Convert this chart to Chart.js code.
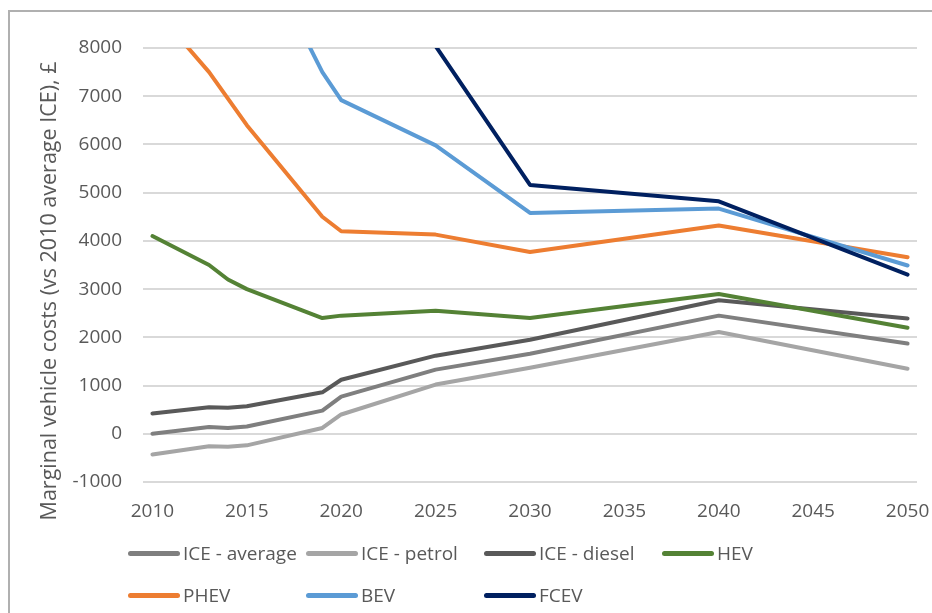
<!DOCTYPE html>
<html>
<head>
<meta charset="utf-8">
<title>Marginal vehicle costs</title>
<script src="https://cdn.jsdelivr.net/npm/chart.js@4.4.1/dist/chart.umd.min.js"></script>
<style>
    body { margin: 0; background: #fff; font-family: "Open Sans", sans-serif; }
    #wrap { position: relative; width: 932px; height: 613px; overflow: hidden; }
    #frame { position: absolute; left: 8px; top: 10px; width: 960px; height: 640px;
             border-left: 2px solid #b0b0b0; border-top: 2px solid #b0b0b0; }
    #chart { position: absolute; left: 0; top: 0; }
    #legend { position: absolute; left: 128px; top: 542px;
              display: grid; grid-template-columns: repeat(4, 178px); row-gap: 20px; }
    .item { display: flex; align-items: center; height: 22px; font-size: 19px; color: #595959; }
    .swatch { width: 52px; height: 5px; border-radius: 3px; margin-right: 3px; }
</style>
</head>
<body>
<div id="wrap">
    <div id="frame"></div>
    <canvas id="chart" width="932" height="613"></canvas>
    <div id="legend"></div>
</div>
<script>
// Years with data points (x positions)
const YEARS = [2010, 2013, 2014, 2015, 2019, 2020, 2025, 2030, 2040, 2050];
const X_TICKS = [2010, 2015, 2020, 2025, 2030, 2035, 2040, 2045, 2050];

// Series values, £ relative to 2010 average ICE (null = off the top of the chart, not read)
const ICE_AVERAGE = [0, 140, 120, 150, 480, 770, 1330, 1660, 2450, 1870];
const ICE_PETROL  = [-430, -260, -270, -240, 120, 400, 1020, 1370, 2110, 1350];
const ICE_DIESEL  = [420, 550, 540, 570, 860, 1120, 1620, 1950, 2770, 2390];
const HEV         = [4100, 3500, 3200, 3000, 2400, 2450, 2550, 2400, 2900, 2200];
const PHEV        = [8860, 7500, 6950, 6400, 4500, 4200, 4130, 3770, 4320, 3660];
const BEV         = [null, null, null, 10600, 7500, 6920, 5980, 4580, 4670, 3490];
const FCEV        = [null, null, null, null, null, null, 8040, 5160, 4820, 3300];

const SERIES_NAMES = ['ICE - average', 'ICE - petrol', 'ICE - diesel', 'HEV', 'PHEV', 'BEV', 'FCEV'];
const SERIES_VALUES = [ICE_AVERAGE, ICE_PETROL, ICE_DIESEL, HEV, PHEV, BEV, FCEV];
const SERIES_COLORS = ['#7f7f7f', '#a5a5a5', '#595959', '#548235', '#ed7d31', '#5b9bd5', '#002060'];

const Y_TITLE = 'Marginal vehicle costs (vs 2010 average ICE), £';
const TEXT_COLOR = '#595959';
const FONT = { family: '"Open Sans", sans-serif', size: 19 };

// Excel style: later series drawn on top
const datasets = SERIES_NAMES.map((name, i) => ({
    label: name,
    data: YEARS.map((yr, j) => ({ x: yr, y: SERIES_VALUES[i][j] })),
    borderColor: SERIES_COLORS[i],
    backgroundColor: SERIES_COLORS[i],
    borderWidth: 4,
    borderCapStyle: 'round',
    borderJoinStyle: 'round',
    tension: 0,
    pointRadius: 0,
    order: SERIES_NAMES.length - i
}));

// Rotated y axis title, centred like the original
const yTitlePlugin = {
    id: 'yTitle',
    afterDraw(chart) {
        const ctx = chart.ctx;
        ctx.save();
        ctx.translate(50, 291);
        ctx.rotate(-Math.PI / 2);
        ctx.font = `21.5px ${FONT.family}`;
        ctx.fillStyle = TEXT_COLOR;
        ctx.textAlign = 'center';
        ctx.textBaseline = 'middle';
        ctx.fillText(Y_TITLE, 0, 0);
        ctx.restore();
    }
};

const chart = new Chart(document.getElementById('chart'), {
    type: 'line',
    data: { datasets },
    options: {
        responsive: false,
        animation: false,
        layout: { padding: { left: 20, top: 48, right: 15, bottom: 91 } },
        plugins: {
            legend: { display: false },
            tooltip: { enabled: false }
        },
        scales: {
            x: {
                type: 'linear',
                min: 2009.5,
                max: 2050.5,
                afterBuildTicks: (scale) => { scale.ticks = X_TICKS.map(v => ({ value: v })); },
                afterFit: (scale) => {
                    scale.height = 40;
                    scale.paddingLeft = 0;
                    scale.paddingRight = 0;
                },
                grid: { display: false, drawTicks: false },
                border: { display: false },
                ticks: {
                    autoSkip: false,
                    maxRotation: 0,
                    padding: 18,
                    color: TEXT_COLOR,
                    font: FONT,
                    callback: (value) => String(value)
                }
            },
            y: {
                min: -1000,
                max: 8000,
                afterFit: (scale) => { scale.width = 123; },
                grid: { color: '#d9d9d9', lineWidth: 2, drawTicks: false },
                border: { display: false },
                ticks: {
                    stepSize: 1000,
                    padding: 21,
                    color: TEXT_COLOR,
                    font: FONT,
                    callback: (value) => String(value)
                }
            }
        }
    },
    plugins: [yTitlePlugin]
});

// Legend laid out in a 4-column grid as in the original
const legend = document.getElementById('legend');
chart.data.datasets.forEach((ds) => {
    const item = document.createElement('div');
    item.className = 'item';
    const swatch = document.createElement('span');
    swatch.className = 'swatch';
    swatch.style.background = ds.borderColor;
    const label = document.createElement('span');
    label.textContent = ds.label;
    item.appendChild(swatch);
    item.appendChild(label);
    legend.appendChild(item);
});
</script>
</body>
</html>
